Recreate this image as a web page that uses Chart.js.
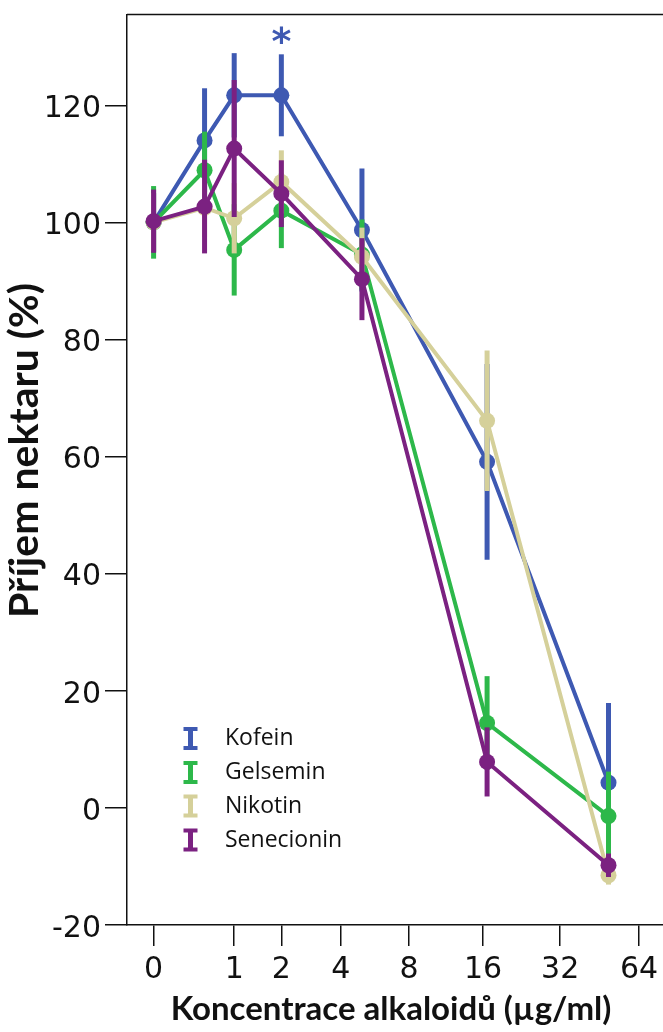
<!DOCTYPE html>
<html>
<head>
<meta charset="utf-8">
<script src="https://cdn.jsdelivr.net/npm/chart.js@4.4.1/dist/chart.umd.min.js"></script>
<style>
  html, body { margin: 0; padding: 0; background: #fff; overflow: hidden; }
  canvas { display: block; }
</style>
</head>
<body>
<canvas id="chart" width="663" height="1032"></canvas>
<script>
// concentrations as they sit on the axis (µg/ml)
const concentrations = [0, 0.55, 1, 2, 5, 16.6, 49];
const tickConcentrations = [0, 1, 2, 4, 8, 16, 32, 64];
const yTicks = [-20, 0, 20, 40, 60, 80, 100, 120];

const seriesNames = ['Kofein', 'Gelsemin', 'Nikotin', 'Senecionin'];
const kofein = [100, 114.0, 121.7, 121.7, 98.7, 59.1, 4.3];
const kofeinErr = [5, 8.9, 7.2, 7.0, 10.5, 16.7, 13.6];
const gelsemin = [100, 108.9, 95.3, 102.0, 94.5, 14.5, -1.4];
const gelseminErr = [6.2, 6.6, 7.8, 6.4, 6.0, 8.0, 7.6];
const nikotin = [100, 102.5, 100.7, 106.9, 94.1, 66.1, -11.5];
const nikotinErr = [5, 5, 6, 5.4, 5, 12, 1.6];
const senecionin = [100.2, 102.7, 112.6, 104.9, 90.3, 7.85, -9.8];
const senecioninErr = [5.4, 8, 11.7, 5.7, 7, 5.9, 2];

const colors = ['#3e59b2', '#2db84a', '#d5d09a', '#7b2181'];

// axis is log2(c + 1)
const pos = c => Math.log2(c + 1);

const values = [kofein, gelsemin, nikotin, senecionin];
const errors = [kofeinErr, gelseminErr, nikotinErr, senecioninErr];

const datasets = seriesNames.map((name, i) => ({
  label: name,
  data: concentrations.map((c, j) => ({ x: pos(c), y: values[i][j] })),
  errors: errors[i],
  borderColor: colors[i],
  backgroundColor: colors[i],
  borderWidth: 4,
  pointRadius: 8,
  pointBorderWidth: 0,
  tension: 0,
  order: seriesNames.length - i,
}));

const errorBars = {
  id: 'errorBars',
  beforeDatasetDraw(chart, args) {
    const ds = chart.data.datasets[args.index];
    const y = chart.scales.y;
    const ctx = chart.ctx;
    ctx.save();
    ctx.strokeStyle = ds.borderColor;
    ctx.lineWidth = 5;
    args.meta.data.forEach((pt, i) => {
      const v = ds.data[i].y;
      const e = ds.errors[i];
      ctx.beginPath();
      ctx.moveTo(pt.x, y.getPixelForValue(v + e));
      ctx.lineTo(pt.x, y.getPixelForValue(v - e));
      ctx.stroke();
    });
    ctx.restore();
  }
};

function fitFontSize(ctx, text, font, width) {
  ctx.font = `bold 100px ${font}`;
  return 100 * width / ctx.measureText(text).width;
}

const decorations = {
  id: 'decorations',
  afterDraw(chart) {
    const ctx = chart.ctx;
    const area = chart.chartArea;
    ctx.save();

    // top frame line
    ctx.strokeStyle = '#111';
    ctx.lineWidth = 1.5;
    ctx.beginPath();
    ctx.moveTo(area.left, area.top);
    ctx.lineTo(area.right, area.top);
    ctx.stroke();

    ctx.fillStyle = '#111';
    // x title
    const xt = 'Koncentrace alkaloidů (µg/ml)';
    let fs = fitFontSize(ctx, xt, 'Lato', 441);
    ctx.font = `bold ${fs}px Lato`;
    ctx.textAlign = 'center';
    ctx.textBaseline = 'alphabetic';
    ctx.fillText(xt, 391, 1019.5);

    // y title
    const yt = 'Příjem nektaru (%)';
    fs = fitFontSize(ctx, yt, 'Lato', 335);
    ctx.font = `bold ${fs}px Lato`;
    ctx.save();
    ctx.translate(38, 450.5);
    ctx.rotate(-Math.PI / 2);
    ctx.fillText(yt, 0, 0);
    ctx.restore();

    // significance star over Kofein at 2
    const xs = chart.scales.x.getPixelForValue(pos(2));
    ctx.fillStyle = colors[0];
    ctx.font = 'bold 38px "DejaVu Sans"';
    ctx.textBaseline = 'middle';
    ctx.fillText('*', xs, 44);

    // legend
    const rows = [738.5, 772.5, 806, 840];
    seriesNames.forEach((name, i) => {
      const cy = rows[i];
      const cx = 190.5;
      ctx.fillStyle = colors[i];
      ctx.fillRect(cx - 2.5, cy - 11, 5, 22);
      ctx.fillRect(cx - 7, cy - 11.5, 14, 4);
      ctx.fillRect(cx - 7, cy + 7.5, 14, 4);
      ctx.fillStyle = '#111';
      ctx.font = '23px "Open Sans"';
      ctx.textAlign = 'left';
      ctx.textBaseline = 'middle';
      ctx.fillText(name, 225, cy);
    });

    ctx.restore();
  }
};

new Chart(document.getElementById('chart'), {
  type: 'line',
  data: { datasets },
  plugins: [errorBars, decorations],
  options: {
    responsive: false,
    devicePixelRatio: 1,
    animation: false,
    layout: { autoPadding: false, padding: { top: 14.5, right: 0, bottom: 0, left: 0 } },
    plugins: { legend: { display: false }, tooltip: { enabled: false } },
    scales: {
      x: {
        type: 'linear',
        min: -0.33,
        max: 6.32,
        afterBuildTicks: s => { s.ticks = tickConcentrations.map(c => ({ value: pos(c) })); },
        afterFit: s => { s.height = 107; s.paddingLeft = 0; s.paddingRight = 0; },
        ticks: {
          autoSkip: false,
          maxRotation: 0,
          padding: 6,
          color: '#111',
          font: { family: 'DejaVu Sans', size: 30 },
          callback: (v, i) => String(tickConcentrations[i]),
        },
        grid: { drawOnChartArea: false, tickLength: 21, color: '#111', lineWidth: 1.5 },
        border: { color: '#111', width: 1.5 },
      },
      y: {
        type: 'linear',
        min: -20,
        max: 135.5,
        afterBuildTicks: s => { s.ticks = yTicks.map(v => ({ value: v })); },
        afterFit: s => { s.width = 127; s.paddingTop = 0; s.paddingBottom = 0; },
        ticks: {
          padding: 4,
          labelOffset: 4,
          color: '#111',
          font: { family: 'DejaVu Sans', size: 30 },
          callback: v => String(v),
        },
        grid: { drawOnChartArea: false, tickLength: 22, color: '#111', lineWidth: 1.5 },
        border: { color: '#111', width: 1.5 },
      },
    },
  },
});
</script>
</body>
</html>
